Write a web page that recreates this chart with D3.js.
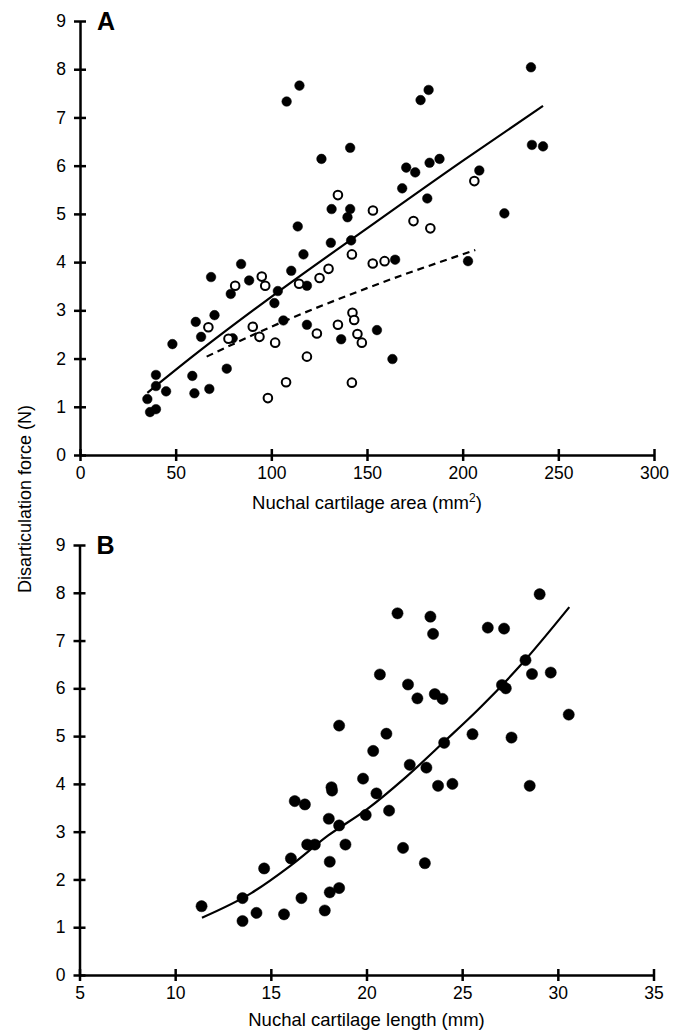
<!DOCTYPE html>
<html>
<head>
<meta charset="utf-8">
<script src="https://cdn.jsdelivr.net/npm/d3@7"></script>
<style>
body { margin: 0; background: #fff; }
svg text { font-family: "Liberation Sans", Arial, sans-serif; fill: #000; }
.axis path, .axis line { stroke: #000; stroke-width: 2.5; }
</style>
</head>
<body>
<script>
// panel A, filled dots (area mm2, force N)
var aFilledX = [108, 114.7, 141.2, 126.2, 131.5, 141.2, 139.8, 113.8, 182.2, 178, 235.7, 236.2, 242,
    170.5, 175.2, 182.7, 187.9, 208.7, 168.4, 181.5, 221.8, 131.1, 141.7, 116.8, 110.4, 84.2, 68.5,
    88.4, 78.8, 103.4, 101.6, 118.6, 70.3, 60.5, 63.3, 106.3, 118.6, 79.8, 48.3, 136.5, 76.7, 58.7,
    39.7, 39.7, 45, 59.8, 67.6, 35.2, 39.7, 36.6, 164.7, 202.8, 155.2, 163.3];
var aFilledY = [7.33, 7.66, 6.37, 6.14, 5.10, 5.10, 4.93, 4.74, 7.57, 7.36, 8.04, 6.43, 6.40,
    5.96, 5.86, 6.06, 6.14, 5.90, 5.53, 5.32, 5.01, 4.40, 4.45, 4.16, 3.82, 3.96, 3.69,
    3.62, 3.34, 3.40, 3.15, 3.51, 2.90, 2.76, 2.45, 2.79, 2.70, 2.42, 2.30, 2.40, 1.79, 1.64,
    1.66, 1.43, 1.32, 1.28, 1.37, 1.16, 0.95, 0.89, 4.05, 4.02, 2.59, 1.99];
// panel A, open circles
var aOpenX = [95, 96.8, 81.1, 67.1, 90.3, 93.8, 77.6, 102, 118.6, 107.7, 98.2, 114.5, 125.2, 129.9,
    142.1, 153, 159.2, 142.1, 134.8, 123.8, 142.4, 143.3, 145, 147.3, 153.1, 174.3, 183.1, 206.1, 134.8];
var aOpenY = [3.70, 3.51, 3.51, 2.65, 2.66, 2.45, 2.41, 2.33, 2.04, 1.51, 1.18, 3.55, 3.67, 3.86,
    4.16, 3.97, 4.02, 1.50, 2.70, 2.52, 2.95, 2.80, 2.51, 2.33, 5.07, 4.85, 4.70, 5.68, 5.39];
// fitted curves
var aFitX = [35.2, 60, 100, 150, 200, 242];
var aFitY = [1.29, 2.08, 3.28, 4.70, 6.10, 7.24];
var aDashX = [66.2, 100, 150, 206.6];
var aDashY = [2.04, 2.66, 3.46, 4.25];

// panel B (length mm, force N)
var bX = [21.62, 23.34, 23.48, 20.70, 22.17, 22.66, 23.57, 23.97, 18.57, 21.04, 20.35, 22.26, 23.13,
    24.06, 19.82, 29.05, 26.34, 27.19, 28.31, 28.65, 29.63, 27.08, 27.28, 30.57, 25.54, 27.58, 23.74,
    24.49, 28.53, 20.52, 18.17, 18.2, 21.18, 19.96, 18.03, 18.57, 16.25, 16.78, 16.90, 17.30, 18.90,
    16.05, 18.08, 14.65, 21.91, 23.05, 16.60, 18.08, 18.57, 13.52, 11.38, 14.25, 15.69, 17.82, 13.52];
var bY = [7.57, 7.50, 7.14, 6.29, 6.08, 5.79, 5.88, 5.78, 5.22, 5.05, 4.69, 4.40, 4.34,
    4.86, 4.11, 7.97, 7.27, 7.25, 6.59, 6.30, 6.33, 6.07, 6.00, 5.45, 5.04, 4.97, 3.96,
    4.00, 3.96, 3.80, 3.93, 3.86, 3.44, 3.35, 3.27, 3.13, 3.64, 3.57, 2.73, 2.73, 2.73,
    2.44, 2.37, 2.23, 2.66, 2.34, 1.61, 1.73, 1.82, 1.61, 1.44, 1.30, 1.27, 1.35, 1.13];
var bFitX = [11.4, 14, 16, 18, 20, 22, 24, 26, 28, 30.6];
var bFitY = [1.20, 1.72, 2.28, 2.92, 3.46, 4.12, 4.86, 5.62, 6.46, 7.70];

var yTicks = [0, 1, 2, 3, 4, 5, 6, 7, 8, 9];
var aTicks = [0, 50, 100, 150, 200, 250, 300];
var bTicks = [5, 10, 15, 20, 25, 30, 35];

var W = 683, H = 1032;
var svg = d3.select("body").append("svg")
    .attr("width", W)
    .attr("height", H);

function zip(xs, ys) {
    return xs.map(function (v, i) { return [v, ys[i]]; });
}

function drawPanel(opt) {
    var x = d3.scaleLinear().domain(opt.xdom).range([opt.left, opt.right]);
    var y = d3.scaleLinear().domain([0, 9]).range([opt.bottom, opt.top]);

    var xa = svg.append("g")
        .attr("class", "axis")
        .attr("transform", "translate(0," + opt.bottom + ")")
        .call(d3.axisBottom(x).tickValues(opt.xticks).tickSizeOuter(0).tickSizeInner(6));
    xa.selectAll(".tick line").attr("y1", -6).attr("y2", 6);
    xa.selectAll(".tick text")
        .attr("y", 24).attr("dy", 0)
        .style("font-size", "17.5px");

    var ya = svg.append("g")
        .attr("class", "axis")
        .attr("transform", "translate(" + opt.left + ",0)")
        .call(d3.axisLeft(y).tickValues(yTicks).tickSizeOuter(0).tickSizeInner(6));
    ya.selectAll(".tick line").attr("x1", -6).attr("x2", 6);
    ya.selectAll(".tick text")
        .attr("x", -14)
        .style("font-size", "17.5px");
    svg.selectAll(".axis text").attr("font-family", null);

    svg.append("text")
        .attr("x", opt.left + 17)
        .attr("y", opt.top + 9)
        .style("font-size", "25px")
        .style("font-weight", "bold")
        .text(opt.label);

    var t = svg.append("text")
        .attr("x", (opt.left + opt.right) / 2)
        .attr("y", opt.bottom + opt.titleOff)
        .attr("text-anchor", "middle")
        .style("font-size", "18.5px");
    t.append("tspan").text(opt.title);
    if (opt.sup) {
        t.append("tspan").attr("dy", -7).style("font-size", "12px").text(opt.sup);
        t.append("tspan").attr("dy", 7).text(")");
    }

    var line = d3.line()
        .x(function (d) { return x(d[0]); })
        .y(function (d) { return y(d[1]); })
        .curve(d3.curveMonotoneX);

    opt.fits.forEach(function (f) {
        svg.append("path")
            .attr("d", line(f.pts))
            .attr("fill", "none")
            .attr("stroke", "#000")
            .attr("stroke-width", 2.2)
            .attr("stroke-dasharray", f.dash || null);
    });

    opt.dots.forEach(function (s) {
        svg.append("g").selectAll("circle")
            .data(s.pts)
            .enter().append("circle")
            .attr("cx", function (d) { return x(d[0]); })
            .attr("cy", function (d) { return y(d[1]); })
            .attr("r", s.r)
            .attr("fill", s.open ? "#fff" : "#000")
            .attr("stroke", "#000")
            .attr("stroke-width", s.open ? 2 : 0.5);
    });
}

drawPanel({
    label: "A", xdom: [0, 300], xticks: aTicks,
    left: 80, right: 654, top: 21, bottom: 455, titleOff: 54,
    title: "Nuchal cartilage area (mm", sup: "2",
    fits: [{ pts: zip(aFitX, aFitY) }, { pts: zip(aDashX, aDashY), dash: "7,5" }],
    dots: [{ pts: zip(aFilledX, aFilledY), r: 4.8 }, { pts: zip(aOpenX, aOpenY), r: 4.3, open: true }]
});

drawPanel({
    label: "B", xdom: [5, 35], xticks: bTicks,
    left: 79.5, right: 653.5, top: 545, bottom: 975, titleOff: 51,
    title: "Nuchal cartilage length (mm)",
    fits: [{ pts: zip(bFitX, bFitY) }],
    dots: [{ pts: zip(bX, bY), r: 5.6 }]
});

svg.append("text")
    .attr("transform", "translate(31,499) rotate(-90)")
    .attr("text-anchor", "middle")
    .style("font-size", "18px")
    .text("Disarticulation force (N)");
</script>
</body>
</html>
